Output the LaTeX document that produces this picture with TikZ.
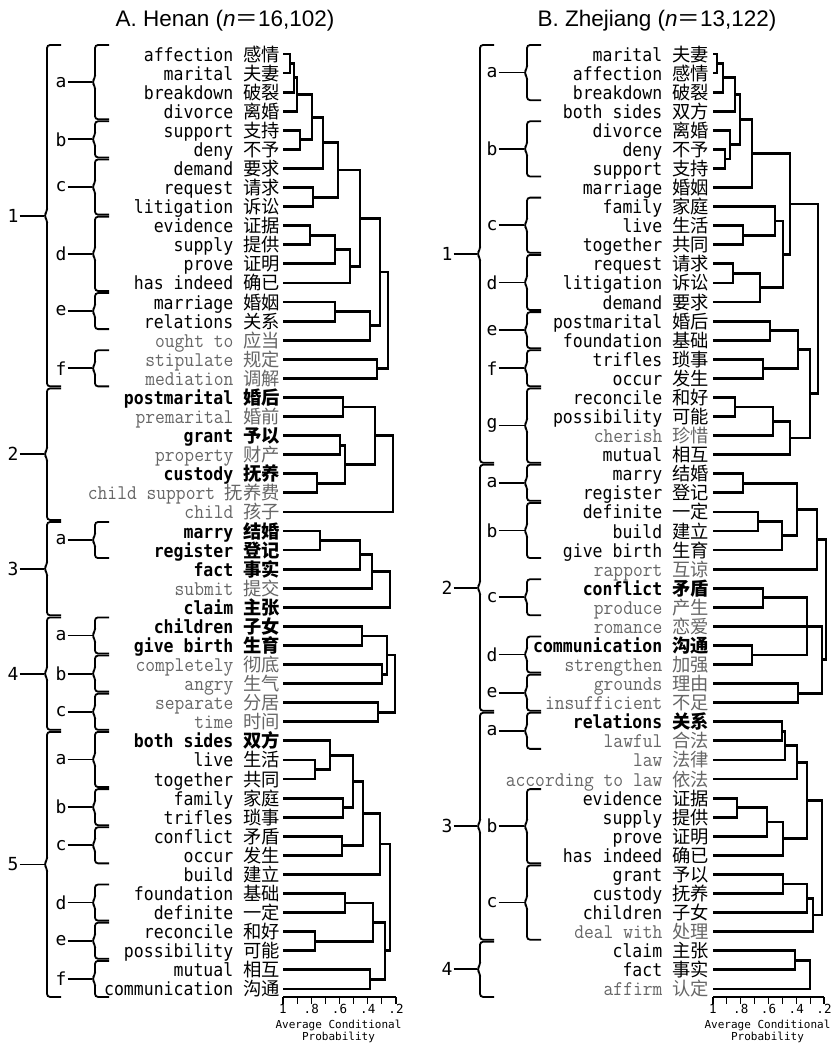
\documentclass[tikz,border=0pt]{standalone}
\usepackage{fontspec}
\setmainfont{Liberation Sans}
\newfontfamily\lgfont{DejaVu Sans Mono}
\newfontfamily\cjk{Noto Sans CJK SC}
\usetikzlibrary{calc}

\newcommand{\zh}[1]{{\cjk\fontsize{18.3}{19}\selectfont #1}}
\newcommand{\tall}[1]{\scalebox{1}[1.1]{#1}}
\newcommand{\rowy}[1]{(54+19.08*(#1-1))}
% word: name, row, style, english, chinese
\newcommand{\term}[5]{%
  \node[#3] (#1) at (\xtxt, {\rowy{#2}+7}) {\tall{#4} \zh{#5}};
  \coordinate (#1-l) at (\xleaf, {\rowy{#2}});}
% join two branches at x
\newcommand{\fuse}[4]{%
  \path let \p1=(#2), \p2=(#3) in ({#4pt},{0.5*\y1+0.5*\y2}) coordinate (#1);
  \draw[tree] (#2) -| (#1);
  \draw[tree] (#3) -| (#1);}
% brace: name, x, first row, last row, label, label x
\newcommand{\grp}[6]{%
  \coordinate (#1-t) at (#2, {\rowy{#3}-9});
  \coordinate (#1-b) at (#2, {\rowy{#4}+8});
  \coordinate (#1-m) at ($(#1-t)!0.5!(#1-b)$);
  \node[glabel] (#1-n) at (#6,0 |- #1-m) {#5};
  \draw[brace] ($(#1-t)+(14,0)$) -- (#1-t) -- ($(#1-m)+(0,-4)$) -- ($(#1-m)+(-3,0)$)
    -- ($(#1-m)+(0,4)$) -- (#1-b) -- ($(#1-b)+(14,0)$);
  \draw[brace] (#1-n.east) -- ($(#1-m)+(-3,0)$);}
% axis: name, x at 1, x at .2
\newcommand{\paxis}[3]{%
  \draw[axis] (#2,997) coordinate (#1-0) -- (#3,997) coordinate (#1-8);
  \foreach \i in {0,...,8} \draw[axis] ({#2+\i*(#3-#2)/8},997) -- ++(0,7);
  \foreach \i/\t in {0/1,2/.8,4/.6,6/.4,8/.2}
    \node[ticklab] at ({#2+\i*(#3-#2)/8},1003) {\t};
  \node[axlab] (#1-lab) at ($(#1-0)!0.5!(#1-8)+(-1,34)$) {Average Conditional\\Probability};}

\tikzset{
  wn/.style={font=\lgfont\fontsize{16.5}{18}\selectfont, anchor=base east, inner sep=0pt},
  wb/.style={wn, font=\lgfont\bfseries\fontsize{16.5}{18}\selectfont},
  wg/.style={font=\ttfamily\fontsize{19}{20}\selectfont, anchor=base east, inner sep=0pt, text=black!60},
  tree/.style={line width=2.8pt},
  brace/.style={line width=1.8pt, rounded corners=3pt},
  glabel/.style={font=\lgfont\fontsize{18}{18}\selectfont, inner sep=1pt},
  axis/.style={line width=1.2pt},
  ticklab/.style={font=\lgfont\fontsize{12.5}{12.5}\selectfont, anchor=north, inner sep=1pt},
  axlab/.style={font=\lgfont\fontsize{11}{12}\selectfont, align=center, inner sep=0pt},
  title/.style={font=\fontsize{22.5}{24}\selectfont, anchor=base}
}

\begin{document}
\begin{tikzpicture}[x=1pt, y=-1pt]
  \useasboundingbox (0,0) rectangle (832,1044);

  % Titles
  \node[title] (henan) at (225,26) {A. Henan (\textit{n}{\cjk ＝}16,102)};
  \node[title] (zhejiang) at (657,26) {B. Zhejiang (\textit{n}{\cjk ＝}13,122)};

  % ---------------- A. Henan ----------------
  \def\xtxt{280}\def\xleaf{283}
  \term{h-affection}{1}{wn}{affection}{感情}
  \term{h-marital}{2}{wn}{marital}{夫妻}
  \term{h-breakdown}{3}{wn}{breakdown}{破裂}
  \term{h-divorce}{4}{wn}{divorce}{离婚}
  \term{h-support}{5}{wn}{support}{支持}
  \term{h-deny}{6}{wn}{deny}{不予}
  \term{h-demand}{7}{wn}{demand}{要求}
  \term{h-request}{8}{wn}{request}{请求}
  \term{h-litigation}{9}{wn}{litigation}{诉讼}
  \term{h-evidence}{10}{wn}{evidence}{证据}
  \term{h-supply}{11}{wn}{supply}{提供}
  \term{h-prove}{12}{wn}{prove}{证明}
  \term{h-hasindeed}{13}{wn}{has indeed}{确已}
  \term{h-marriage}{14}{wn}{marriage}{婚姻}
  \term{h-relations}{15}{wn}{relations}{关系}
  \term{h-oughtto}{16}{wg}{ought to}{应当}
  \term{h-stipulate}{17}{wg}{stipulate}{规定}
  \term{h-mediation}{18}{wg}{mediation}{调解}
  \term{h-postmarital}{19}{wb}{postmarital}{婚后}
  \term{h-premarital}{20}{wg}{premarital}{婚前}
  \term{h-grant}{21}{wb}{grant}{予以}
  \term{h-property}{22}{wg}{property}{财产}
  \term{h-custody}{23}{wb}{custody}{抚养}
  \term{h-childsupport}{24}{wg}{child support}{抚养费}
  \term{h-child}{25}{wg}{child}{孩子}
  \term{h-marry}{26}{wb}{marry}{结婚}
  \term{h-register}{27}{wb}{register}{登记}
  \term{h-fact}{28}{wb}{fact}{事实}
  \term{h-submit}{29}{wg}{submit}{提交}
  \term{h-claim}{30}{wb}{claim}{主张}
  \term{h-children}{31}{wb}{children}{子女}
  \term{h-givebirth}{32}{wb}{give birth}{生育}
  \term{h-completely}{33}{wg}{completely}{彻底}
  \term{h-angry}{34}{wg}{angry}{生气}
  \term{h-separate}{35}{wg}{separate}{分居}
  \term{h-time}{36}{wg}{time}{时间}
  \term{h-bothsides}{37}{wb}{both sides}{双方}
  \term{h-live}{38}{wn}{live}{生活}
  \term{h-together}{39}{wn}{together}{共同}
  \term{h-family}{40}{wn}{family}{家庭}
  \term{h-trifles}{41}{wn}{trifles}{琐事}
  \term{h-conflict}{42}{wn}{conflict}{矛盾}
  \term{h-occur}{43}{wn}{occur}{发生}
  \term{h-build}{44}{wn}{build}{建立}
  \term{h-foundation}{45}{wn}{foundation}{基础}
  \term{h-definite}{46}{wn}{definite}{一定}
  \term{h-reconcile}{47}{wn}{reconcile}{和好}
  \term{h-possibility}{48}{wn}{possibility}{可能}
  \term{h-mutual}{49}{wn}{mutual}{相互}
  \term{h-communication}{50}{wn}{communication}{沟通}

  % clusters and subclusters
  \grp{hG1}{47}{1}{18}{1}{13}
  \grp{hG2}{47}{19}{25}{2}{13}
  \grp{hG3}{47}{26}{30}{3}{13}
  \grp{hG4}{47}{31}{36}{4}{13}
  \grp{hG5}{47}{37}{50}{5}{13}
  \grp{h1a}{95}{1}{4}{a}{61}
  \grp{h1b}{95}{5}{6}{b}{61}
  \grp{h1c}{95}{7}{9}{c}{61}
  \grp{h1d}{95}{10}{13}{d}{61}
  \grp{h1e}{95}{14}{15}{e}{61}
  \grp{h1f}{95}{17}{18}{f}{61}
  \grp{h3a}{95}{26}{27}{a}{61}
  \grp{h4a}{95}{31}{32}{a}{61}
  \grp{h4b}{95}{33}{34}{b}{61}
  \grp{h4c}{95}{35}{36}{c}{61}
  \grp{h5a}{95}{37}{39}{a}{61}
  \grp{h5b}{95}{40}{41}{b}{61}
  \grp{h5c}{95}{42}{43}{c}{61}
  \grp{h5d}{95}{45}{46}{d}{61}
  \grp{h5e}{95}{47}{48}{e}{61}
  \grp{h5f}{95}{49}{50}{f}{61}

  % dendrogram
  \fuse{h1}{h-affection-l}{h-marital-l}{290}
  \fuse{h2}{h1}{h-breakdown-l}{294}
  \fuse{h3}{h2}{h-divorce-l}{297}
  \fuse{h4}{h-support-l}{h-deny-l}{300}
  \fuse{h5}{h3}{h4}{312}
  \fuse{h6}{h5}{h-demand-l}{323}
  \fuse{h7}{h-request-l}{h-litigation-l}{313}
  \fuse{h8}{h6}{h7}{338}
  \fuse{h9}{h-evidence-l}{h-supply-l}{310}
  \fuse{h10}{h9}{h-prove-l}{335}
  \fuse{h11}{h10}{h-hasindeed-l}{350}
  \fuse{h12}{h8}{h11}{360}
  \fuse{h13}{h-marriage-l}{h-relations-l}{335}
  \fuse{h14}{h13}{h-oughtto-l}{370}
  \fuse{h15}{h12}{h14}{380}
  \fuse{h16}{h-stipulate-l}{h-mediation-l}{377}
  \fuse{h17}{h15}{h16}{388}
  \fuse{h18}{h-postmarital-l}{h-premarital-l}{343}
  \fuse{h19}{h-grant-l}{h-property-l}{340}
  \fuse{h20}{h-custody-l}{h-childsupport-l}{317}
  \fuse{h21}{h19}{h20}{345}
  \fuse{h22}{h18}{h21}{375}
  \fuse{h23}{h22}{h-child-l}{393}
  \fuse{h24}{h-marry-l}{h-register-l}{320}
  \fuse{h25}{h24}{h-fact-l}{360}
  \fuse{h26}{h25}{h-submit-l}{372}
  \fuse{h27}{h26}{h-claim-l}{390}
  \fuse{h28}{h-children-l}{h-givebirth-l}{362}
  \fuse{h29}{h-completely-l}{h-angry-l}{382}
  \fuse{h30}{h28}{h29}{387}
  \fuse{h31}{h-separate-l}{h-time-l}{378}
  \fuse{h32}{h30}{h31}{395}
  \fuse{h33}{h-live-l}{h-together-l}{315}
  \fuse{h34}{h-bothsides-l}{h33}{330}
  \fuse{h35}{h-family-l}{h-trifles-l}{343}
  \fuse{h36}{h34}{h35}{353}
  \fuse{h37}{h-conflict-l}{h-occur-l}{342}
  \fuse{h38}{h36}{h37}{363}
  \fuse{h39}{h38}{h-build-l}{380}
  \fuse{h40}{h-foundation-l}{h-definite-l}{345}
  \fuse{h41}{h-reconcile-l}{h-possibility-l}{315}
  \fuse{h42}{h40}{h41}{373}
  \fuse{h43}{h-mutual-l}{h-communication-l}{370}
  \fuse{h44}{h42}{h43}{385}
  \fuse{h45}{h39}{h44}{390}

  \paxis{hx}{283}{396}

  % ---------------- B. Zhejiang ----------------
  \def\xtxt{709}\def\xleaf{713}
  \term{z-marital}{1}{wn}{marital}{夫妻}
  \term{z-affection}{2}{wn}{affection}{感情}
  \term{z-breakdown}{3}{wn}{breakdown}{破裂}
  \term{z-bothsides}{4}{wn}{both sides}{双方}
  \term{z-divorce}{5}{wn}{divorce}{离婚}
  \term{z-deny}{6}{wn}{deny}{不予}
  \term{z-support}{7}{wn}{support}{支持}
  \term{z-marriage}{8}{wn}{marriage}{婚姻}
  \term{z-family}{9}{wn}{family}{家庭}
  \term{z-live}{10}{wn}{live}{生活}
  \term{z-together}{11}{wn}{together}{共同}
  \term{z-request}{12}{wn}{request}{请求}
  \term{z-litigation}{13}{wn}{litigation}{诉讼}
  \term{z-demand}{14}{wn}{demand}{要求}
  \term{z-postmarital}{15}{wn}{postmarital}{婚后}
  \term{z-foundation}{16}{wn}{foundation}{基础}
  \term{z-trifles}{17}{wn}{trifles}{琐事}
  \term{z-occur}{18}{wn}{occur}{发生}
  \term{z-reconcile}{19}{wn}{reconcile}{和好}
  \term{z-possibility}{20}{wn}{possibility}{可能}
  \term{z-cherish}{21}{wg}{cherish}{珍惜}
  \term{z-mutual}{22}{wn}{mutual}{相互}
  \term{z-marry}{23}{wn}{marry}{结婚}
  \term{z-register}{24}{wn}{register}{登记}
  \term{z-definite}{25}{wn}{definite}{一定}
  \term{z-build}{26}{wn}{build}{建立}
  \term{z-givebirth}{27}{wn}{give birth}{生育}
  \term{z-rapport}{28}{wg}{rapport}{互谅}
  \term{z-conflict}{29}{wb}{conflict}{矛盾}
  \term{z-produce}{30}{wg}{produce}{产生}
  \term{z-romance}{31}{wg}{romance}{恋爱}
  \term{z-communication}{32}{wb}{communication}{沟通}
  \term{z-strengthen}{33}{wg}{strengthen}{加强}
  \term{z-grounds}{34}{wg}{grounds}{理由}
  \term{z-insufficient}{35}{wg}{insufficient}{不足}
  \term{z-relations}{36}{wb}{relations}{关系}
  \term{z-lawful}{37}{wg}{lawful}{合法}
  \term{z-law}{38}{wg}{law}{法律}
  \term{z-accordingtolaw}{39}{wg}{according to law}{依法}
  \term{z-evidence}{40}{wn}{evidence}{证据}
  \term{z-supply}{41}{wn}{supply}{提供}
  \term{z-prove}{42}{wn}{prove}{证明}
  \term{z-hasindeed}{43}{wn}{has indeed}{确已}
  \term{z-grant}{44}{wn}{grant}{予以}
  \term{z-custody}{45}{wn}{custody}{抚养}
  \term{z-children}{46}{wn}{children}{子女}
  \term{z-dealwith}{47}{wg}{deal with}{处理}
  \term{z-claim}{48}{wn}{claim}{主张}
  \term{z-fact}{49}{wn}{fact}{事实}
  \term{z-affirm}{50}{wg}{affirm}{认定}

  % clusters and subclusters
  \grp{zG1}{480}{1}{22}{1}{447}
  \grp{zG2}{480}{23}{35}{2}{447}
  \grp{zG3}{480}{36}{47}{3}{447}
  \grp{zG4}{480}{48}{50}{4}{447}
  \grp{z1a}{527}{1}{3}{a}{492}
  \grp{z1b}{527}{5}{7}{b}{492}
  \grp{z1c}{527}{9}{11}{c}{492}
  \grp{z1d}{527}{12}{14}{d}{492}
  \grp{z1e}{527}{15}{16}{e}{492}
  \grp{z1f}{527}{17}{18}{f}{492}
  \grp{z1g}{527}{19}{22}{g}{492}
  \grp{z2a}{527}{23}{24}{a}{492}
  \grp{z2b}{527}{25}{27}{b}{492}
  \grp{z2c}{527}{29}{30}{c}{492}
  \grp{z2d}{527}{32}{33}{d}{492}
  \grp{z2e}{527}{34}{35}{e}{492}
  \grp{z3a}{527}{36}{37}{a}{492}
  \grp{z3b}{527}{40}{43}{b}{492}
  \grp{z3c}{527}{44}{47}{c}{492}

  % dendrogram
  \fuse{z1}{z-marital-l}{z-affection-l}{717}
  \fuse{z2}{z1}{z-breakdown-l}{723}
  \fuse{z3}{z2}{z-bothsides-l}{735}
  \fuse{z4}{z-deny-l}{z-support-l}{725}
  \fuse{z5}{z-divorce-l}{z4}{730}
  \fuse{z6}{z3}{z5}{740}
  \fuse{z7}{z6}{z-marriage-l}{752}
  \fuse{z8}{z-live-l}{z-together-l}{743}
  \fuse{z9}{z-request-l}{z-litigation-l}{733}
  \fuse{z10}{z9}{z-demand-l}{760}
  \fuse{z11}{z-family-l}{z8}{775}
  \fuse{z12}{z11}{z10}{783}
  \fuse{z13}{z7}{z12}{790}
  \fuse{z14}{z-postmarital-l}{z-foundation-l}{770}
  \fuse{z15}{z-trifles-l}{z-occur-l}{763}
  \fuse{z16}{z14}{z15}{798}
  \fuse{z17}{z-reconcile-l}{z-possibility-l}{735}
  \fuse{z18}{z17}{z-cherish-l}{773}
  \fuse{z19}{z18}{z-mutual-l}{790}
  \fuse{z20}{z16}{z19}{810}
  \fuse{z21}{z13}{z20}{818}
  \fuse{z22}{z-marry-l}{z-register-l}{743}
  \fuse{z23}{z-definite-l}{z-build-l}{758}
  \fuse{z24}{z23}{z-givebirth-l}{782}
  \fuse{z25}{z22}{z24}{797}
  \fuse{z26}{z25}{z-rapport-l}{817}
  \fuse{z27}{z-conflict-l}{z-produce-l}{763}
  \fuse{z28}{z-communication-l}{z-strengthen-l}{752}
  \fuse{z29}{z27}{z28}{807}
  \fuse{z30}{z29}{z-romance-l}{812}
  \fuse{z31}{z-grounds-l}{z-insufficient-l}{798}
  \fuse{z32}{z30}{z31}{822}
  \fuse{z33}{z26}{z32}{826}
  \fuse{z34}{z-relations-l}{z-lawful-l}{782}
  \fuse{z35}{z34}{z-law-l}{785}
  \fuse{z36}{z35}{z-accordingtolaw-l}{797}
  \fuse{z37}{z-evidence-l}{z-supply-l}{737}
  \fuse{z38}{z37}{z-prove-l}{767}
  \fuse{z39}{z38}{z-hasindeed-l}{783}
  \fuse{z40}{z36}{z39}{807}
  \fuse{z41}{z-grant-l}{z-custody-l}{783}
  \fuse{z42}{z41}{z-children-l}{807}
  \fuse{z43}{z42}{z-dealwith-l}{813}
  \fuse{z44}{z40}{z43}{822}
  \fuse{z45}{z-claim-l}{z-fact-l}{795}
  \fuse{z46}{z45}{z-affirm-l}{810}

  \paxis{zx}{713}{824}
\end{tikzpicture}
\end{document}
